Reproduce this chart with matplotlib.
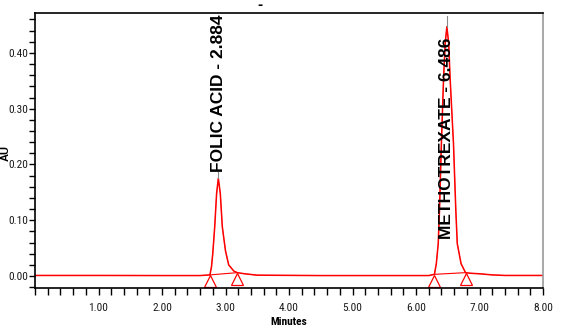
import matplotlib
matplotlib.use("Agg")
import matplotlib.pyplot as plt
from matplotlib import font_manager
from matplotlib.ticker import MultipleLocator, FixedLocator, FormatStrFormatter

# Trace (minutes, AU)
t = [0.00, 1.00, 2.00, 2.60, 2.755, 2.78, 2.80, 2.83, 2.86, 2.887, 2.918, 2.95,
     3.00, 3.05, 3.13, 3.185, 3.30, 3.50, 4.50, 6.20, 6.29, 6.32, 6.35, 6.37,
     6.40, 6.435, 6.46, 6.486, 6.515, 6.536, 6.59, 6.627, 6.65, 6.71, 6.78,
     6.85, 7.00, 7.20, 7.40, 8.00]
au = [0.001, 0.001, 0.0008, 0.0008, 0.002, 0.017, 0.041, 0.088, 0.148, 0.175,
      0.148, 0.088, 0.045, 0.020, 0.009, 0.006, 0.004, 0.0015, 0.0008, 0.0008,
      0.003, 0.022, 0.058, 0.118, 0.238, 0.357, 0.417, 0.447, 0.417, 0.357,
      0.238, 0.118, 0.058, 0.022, 0.006, 0.005, 0.004, 0.002, 0.001, 0.001]

# Peaks
peak_names = ["FOLIC ACID", "METHOTREXATE"]
peak_rt = [2.884, 6.486]
peak_height = [0.175, 0.447]
peak_start = [2.755, 6.29]
peak_start_au = [0.002, 0.003]
peak_end = [3.185, 6.78]
peak_end_au = [0.006, 0.006]

# label placement (style): (y, va)
label_pos = [(0.186, "bottom"), (0.428, "top")]

# narrow font for the axis numbers, if one is installed
fonts = font_manager.fontManager.ttflist
names = {f.name for f in fonts}
tick_font = {"family": "Liberation Sans", "fontsize": 7.5}
for cand in ["Liberation Sans Narrow", "Roboto Condensed", "Open Sans Condensed"]:
    if cand in names:
        tick_font = {"family": cand, "fontsize": 8.2}
        break
else:
    if any(f.name == "DejaVu Sans" and f.stretch == "condensed" for f in fonts):
        tick_font = {"family": "DejaVu Sans", "fontsize": 7.5,
                     "fontstretch": "condensed"}

fig = plt.figure(figsize=(5.7, 3.26), dpi=100)
ax = fig.add_axes([35 / 570, 1 - 288 / 326, 508 / 570, 275 / 326])

red = "#ff0000"
ax.plot(t, au, color=red, lw=1.1)
# the flat trace reads a touch heavier on the original
ax.plot(t, au, color=red, lw=0.6, alpha=0.5)

for i in range(len(peak_rt)):
    # integration baseline
    ax.plot([peak_start[i], peak_end[i]], [peak_start_au[i], peak_end_au[i]],
            color=red, lw=0.8)
    ax.plot([peak_start[i]], [peak_start_au[i] - 0.0115], marker="^", ms=9,
            mfc="none", mec=red, mew=0.9, ls="none", clip_on=False)
    ax.plot([peak_end[i]], [peak_end_au[i] - 0.0115], marker="^", ms=9,
            mfc="none", mec=red, mew=0.9, ls="none", clip_on=False)
    y, va = label_pos[i]
    top = y if va == "bottom" else 0.466
    ax.plot([peak_rt[i] + 0.003, peak_rt[i] + 0.003], [peak_height[i], top],
            color="#8a8a8a", lw=0.8)
    ax.text(peak_rt[i], y, f"{peak_names[i]} - {peak_rt[i]:.3f}", rotation=90,
            ha="center", va=va, fontsize=12.5, family="Liberation Sans",
            fontweight="bold", color="black")

ax.set_xlim(0, 8)
ax.set_ylim(-0.0215, 0.4715)

ax.xaxis.set_major_locator(FixedLocator([1, 2, 3, 4, 5, 6, 7, 8]))
ax.xaxis.set_minor_locator(MultipleLocator(0.2))
ax.xaxis.set_major_formatter(FormatStrFormatter("%.2f"))
ax.yaxis.set_major_locator(FixedLocator([0.0, 0.1, 0.2, 0.3, 0.4]))
ax.yaxis.set_minor_locator(MultipleLocator(0.02))
ax.yaxis.set_major_formatter(FormatStrFormatter("%.2f"))
ax.tick_params(which="both", direction="out", width=1, color="black")
ax.tick_params(axis="x", which="both", length=5, pad=6)
ax.tick_params(axis="y", which="both", length=4, pad=1)
for lab in ax.get_xticklabels() + ax.get_yticklabels():
    lab.set(**tick_font)
    lab.set_color("#1a1a1a")

for s in ["left", "bottom", "top"]:
    ax.spines[s].set_linewidth(1.2)
    ax.spines[s].set_color("black")
ax.spines["right"].set_color("#9a9a9a")
ax.spines["right"].set_linewidth(1.2)

fig.text(6 / 570, 1 - 153 / 326, "AU", rotation=90, ha="center", va="center",
         fontsize=8, family="Liberation Sans", fontweight="bold")
fig.text(289 / 570, 0.028, "Minutes", ha="center", va="top",
         fontweight="bold", **tick_font)
fig.text(260 / 570, 1 - 5 / 326, "-", ha="center", va="center", fontsize=9,
         fontweight="bold")

fig.savefig("out.png", dpi=100)
